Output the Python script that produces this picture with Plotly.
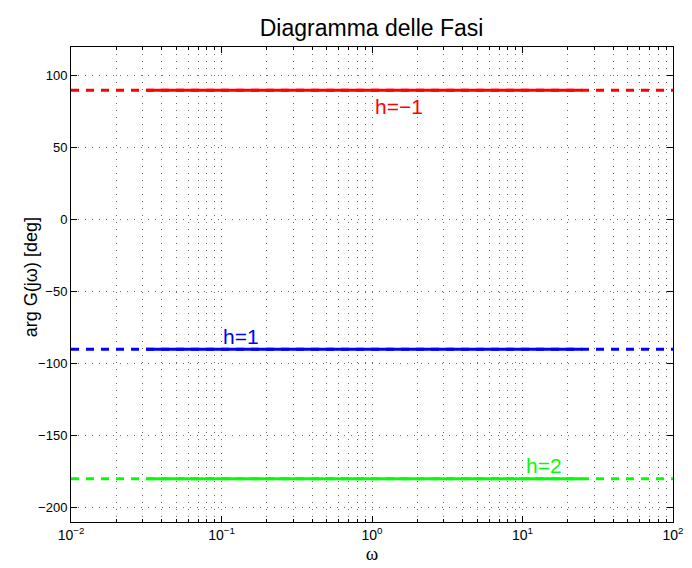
import numpy as np
import plotly.graph_objects as go

# Phase of G(jw) for the different system types h
h_labels = ["h=\u22121", "h=1", "h=2"]
phases = [90, -90, -180]
colors = ["#FF0000", "#0000FF", "#00FF00"]

# frequency span of the full (dashed) and the computed (solid) segments
w_full = [1e-2, 1e2]
w_solid = [10 ** -1.5, 25.0]

# label anchor frequencies and vertical offsets (deg)
label_w = [10 ** 0.18, 10 ** -0.87, 10 ** 1.14]
label_dy = [-11, 9, 9]

# decade ticks of the frequency axis
x_ticks = [1e-2, 1e-1, 1, 10, 100]
x_ticktext = ["10<sup>\u22122</sup>", "10<sup>\u22121</sup>", "10<sup>0</sup>",
              "10<sup>1</sup>", "10<sup>2</sup>"]
y_ticks = [-200, -150, -100, -50, 0, 50, 100]
y_ticktext = ["\u2212200", "\u2212150", "\u2212100", "\u221250", "0", "50", "100"]

fig = go.Figure()
for ph, c in zip(phases, colors):
    fig.add_trace(go.Scatter(x=w_full, y=[ph, ph], mode="lines",
                             line=dict(color=c, width=3, dash="8px,7px"),
                             showlegend=False, hoverinfo="skip"))
    fig.add_trace(go.Scatter(x=w_solid, y=[ph, ph], mode="lines",
                             line=dict(color=c, width=3),
                             showlegend=False, hoverinfo="skip"))

for lab, ph, c, lw, dy in zip(h_labels, phases, colors, label_w, label_dy):
    fig.add_annotation(x=np.log10(lw), y=ph + dy, text=lab, showarrow=False,
                       font=dict(color=c, size=21, family="Liberation Sans"))

# vertical axis label
fig.add_annotation(xref="paper", yref="paper", x=-0.066, y=0.516,
                   xanchor="center", yanchor="middle", textangle=-90,
                   text="arg G(j\u03c9) [deg]", showarrow=False,
                   font=dict(size=18, family="Liberation Sans", color="black"))

grid_col = "#6a6a6a"
grid_dash = "1px,6px"
fig.update_xaxes(
    type="log", range=[-2, 2], automargin=False,
    tickvals=x_ticks, ticktext=x_ticktext,
    ticks="inside", ticklen=6, tickcolor="black",
    showline=True, linecolor="black", linewidth=1, mirror="ticks",
    showgrid=True, gridcolor=grid_col, griddash=grid_dash, gridwidth=1,
    minor=dict(dtick="D1", ticks="inside", ticklen=3, tickcolor="black",
               showgrid=True, gridcolor=grid_col, griddash=grid_dash, gridwidth=1),
    zeroline=False,
    tickfont=dict(size=14, family="Liberation Sans", color="black"),
    title=dict(text="\u03c9", font=dict(size=19, family="Liberation Serif", color="black"),
               standoff=4),
)
fig.update_yaxes(
    range=[-210, 120], automargin=False,
    tickvals=y_ticks, ticktext=y_ticktext,
    ticks="inside", ticklen=6, tickcolor="black",
    showline=True, linecolor="black", linewidth=1, mirror="ticks",
    showgrid=True, gridcolor=grid_col, griddash=grid_dash, gridwidth=1,
    zeroline=False,
    tickfont=dict(size=13, family="Liberation Sans", color="black"),
)

fig.update_layout(
    width=692, height=568,
    margin=dict(l=71, r=19, t=47, b=46),
    paper_bgcolor="white", plot_bgcolor="white",
    title=dict(text="Diagramma delle Fasi", x=0.537, xanchor="center",
               y=0.951, yanchor="middle",
               font=dict(size=23, family="Liberation Sans", color="black")),
    showlegend=False,
)

fig.write_html("out.html")
